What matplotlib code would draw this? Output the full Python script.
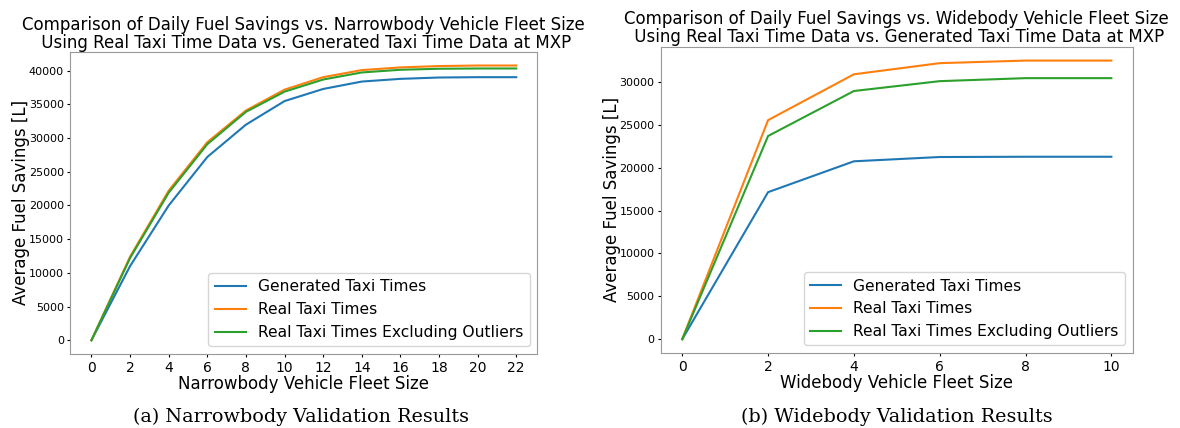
import matplotlib
matplotlib.use("Agg")
import matplotlib.pyplot as plt

# Narrowbody fleet results
nb_fleet = [0, 2, 4, 6, 8, 10, 12, 14, 16, 18, 20, 22]
nb_generated = [0, 11000, 20000, 27200, 32000, 35500, 37300, 38400, 38800, 39000, 39050, 39050]
nb_real = [0, 12400, 22200, 29400, 34100, 37200, 39050, 40100, 40500, 40700, 40780, 40780]
nb_real_no_outliers = [0, 12200, 21900, 29100, 33900, 36900, 38700, 39750, 40150, 40300, 40340, 40340]

# Widebody fleet results
wb_fleet = [0, 2, 4, 6, 8, 10]
wb_generated = [0, 17150, 20750, 21250, 21280, 21280]
wb_real = [0, 25550, 30900, 32200, 32500, 32500]
wb_real_no_outliers = [0, 23700, 28950, 30100, 30450, 30450]

labels = ["Generated Taxi Times", "Real Taxi Times",
          "Real Taxi Times Excluding Outliers"]
colors = ["#1f77b4", "#ff7f0e", "#2ca02c"]

fig = plt.figure(figsize=(11.8, 4.28), dpi=100)
ax1 = fig.add_axes([0.0595, 0.173, 0.396, 0.706])
ax2 = fig.add_axes([0.560, 0.175, 0.400, 0.716])

panels = [
    (ax1, nb_fleet, [nb_generated, nb_real, nb_real_no_outliers], "Narrowbody"),
    (ax2, wb_fleet, [wb_generated, wb_real, wb_real_no_outliers], "Widebody"),
]

for ax, fleet, series, body in panels:
    for ys, lab, c in zip(series, labels, colors):
        ax.plot(fleet, ys, color=c, linewidth=1.5, label=lab)
    ax.set_xticks(fleet)
    ax.set_title("Comparison of Daily Fuel Savings vs. " + body
                 + " Vehicle Fleet Size\n Using Real Taxi Time Data vs. "
                 "Generated Taxi Time Data at MXP", fontsize=12,
                 linespacing=1.0, pad=3)
    ax.set_xlabel(body + " Vehicle Fleet Size", fontsize=12, labelpad=0)
    ax.set_ylabel("Average Fuel Savings [L]", fontsize=12, labelpad=-1)
    ax.tick_params(axis="x", labelsize=10, length=2.5, pad=2.5)
    ax.tick_params(axis="y", labelsize=8, length=2.5, pad=2)
    for s in ax.spines.values():
        s.set_color("#999999")
    ax.legend(loc="lower right", fontsize=11.2, handlelength=2.0)

fig.text(0.255, 0.026, "(a) Narrowbody Validation Results",
         ha="center", va="center", family="DejaVu Serif", fontsize=13.8)
fig.text(0.76, 0.026, "(b) Widebody Validation Results",
         ha="center", va="center", family="DejaVu Serif", fontsize=13.8)

fig.savefig("out.png", dpi=100)
